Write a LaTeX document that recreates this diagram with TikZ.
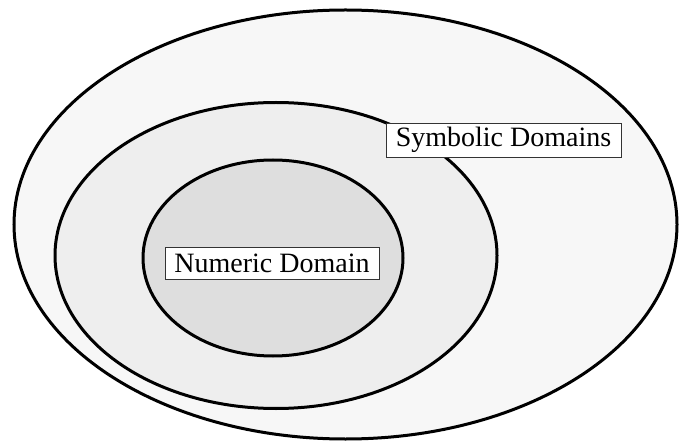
\documentclass[tikz,border=0pt]{standalone}
\usepackage{fontspec}
\setmainfont{Liberation Serif}
\begin{document}
\begin{tikzpicture}[x=1pt,y=-1pt,
  region/.style={draw=black,line width=3pt},
  labelbox/.style={draw=black!80,line width=0.8pt,fill=white,inner sep=0pt,
    font=\fontsize{28}{34}\selectfont}]
\useasboundingbox (0,0) rectangle (679,443);
\fill[white] (0,0) rectangle (679,443);
\draw[region,fill=black!3] (345.5,224.5) ellipse [x radius=331.5pt,y radius=214.5pt];
\draw[region,fill=black!6.5] (276,255.5) ellipse [x radius=221pt,y radius=153pt];
\draw[region,fill=black!13] (273,258) ellipse [x radius=130pt,y radius=98pt];
\node[labelbox,minimum width=235pt,minimum height=34pt] (sym) at (503.5,140) {Symbolic Domains};
\node[labelbox,minimum width=214pt,minimum height=32pt] (num) at (272,263) {Numeric Domain};
\end{tikzpicture}
\end{document}
